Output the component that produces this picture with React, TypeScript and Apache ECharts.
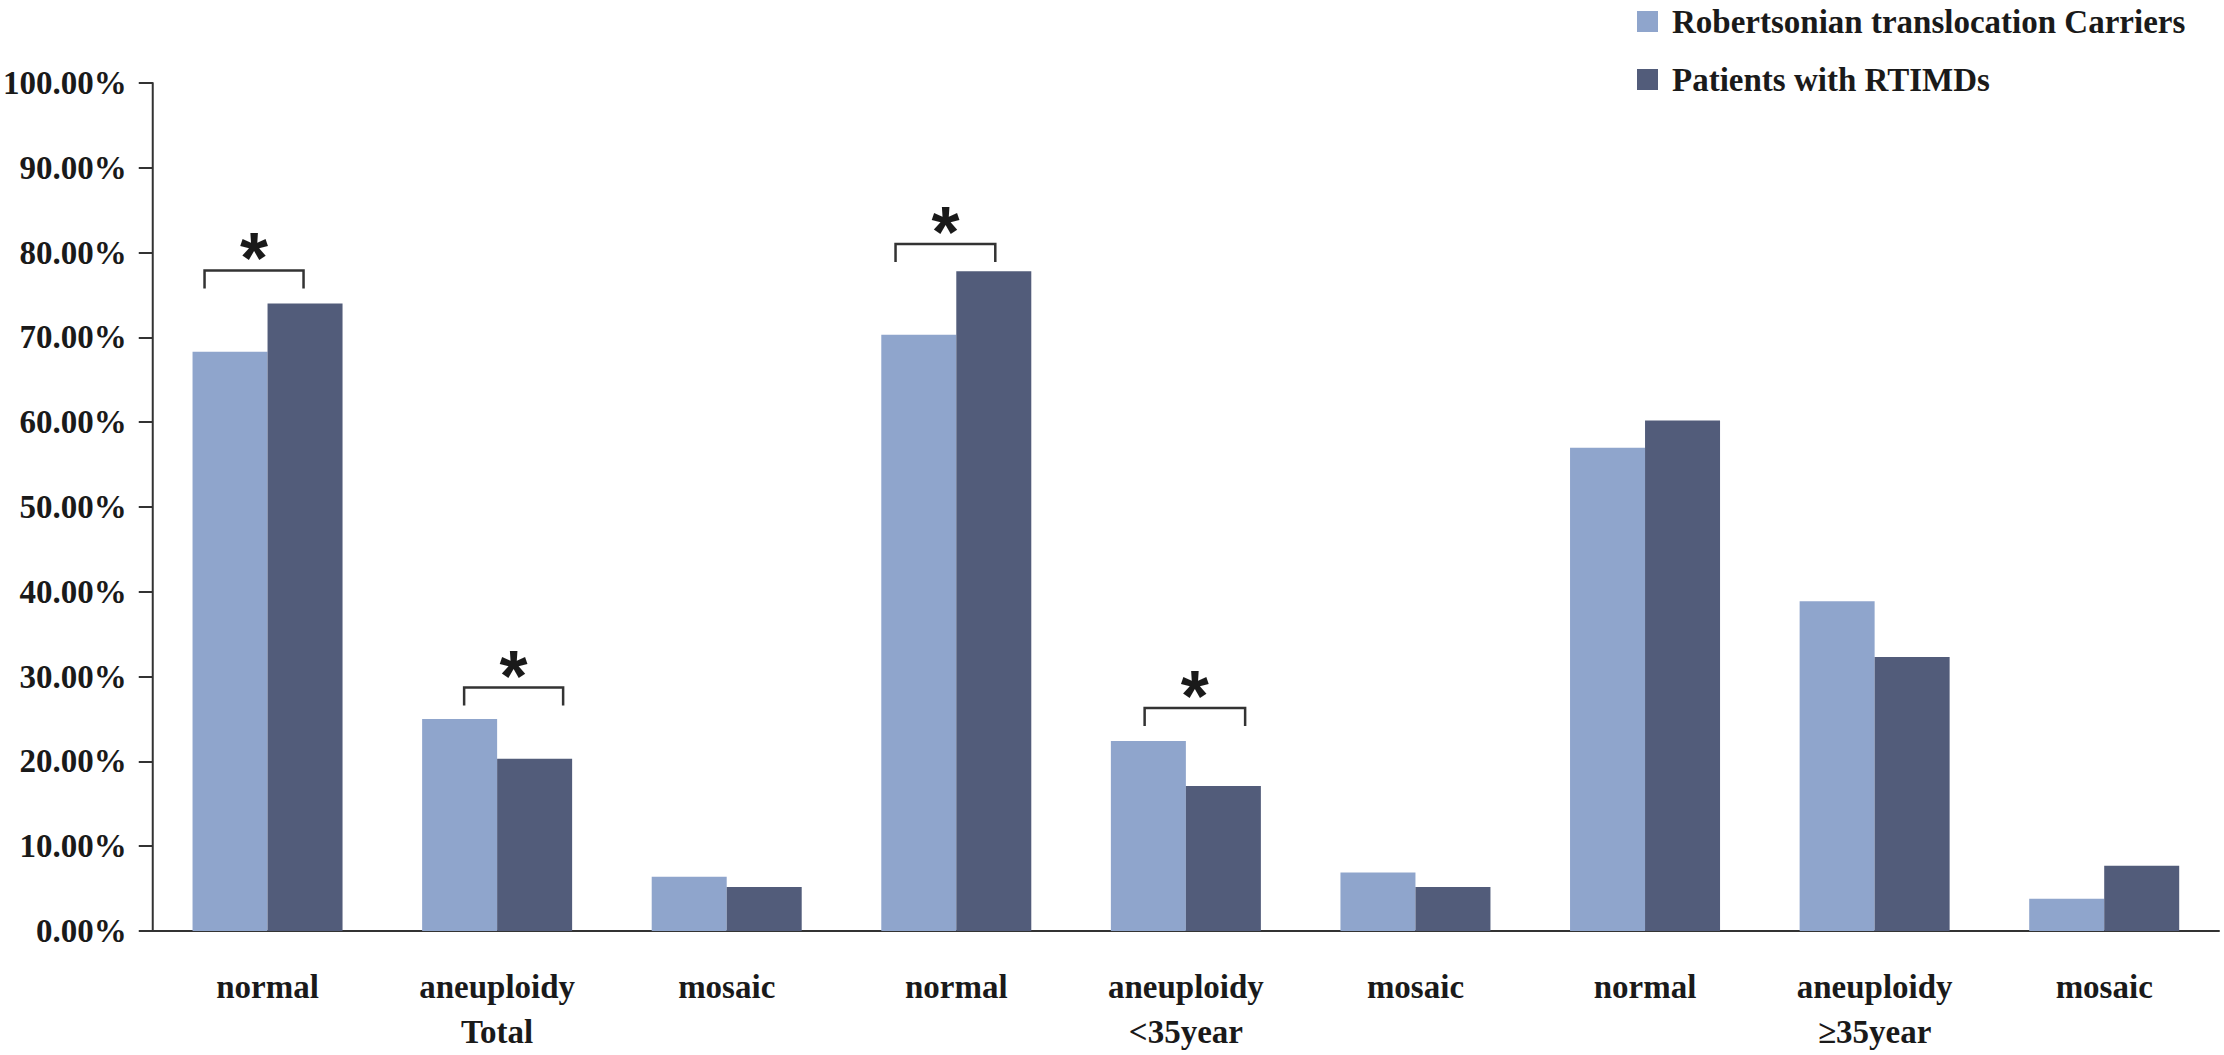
import React, { useEffect, useRef } from 'react';
import * as echarts from 'echarts';

// ---- data ----
const categories = ['normal', 'aneuploidy', 'mosaic', 'normal', 'aneuploidy', 'mosaic', 'normal', 'aneuploidy', 'mosaic'];
const groupLabels = ['Total', '<35year', '≥35year'];
const seriesNames = ['Robertsonian translocation Carriers', 'Patients with RTIMDs'];
const carriers = [68.3, 25.0, 6.4, 70.3, 22.4, 6.9, 57.0, 38.9, 3.8];
const patients = [74.0, 20.3, 5.2, 77.8, 17.1, 5.2, 60.2, 32.3, 7.7];
const yMin = 0;
const yMax = 100;
const yStep = 10;
const sigCategory = [0, 1, 3, 4];
const sigLevel = [77.9, 28.7, 81.0, 26.3];
const sigMark = ['*', '*', '*', '*'];

// ---- styling ----
const BAR_W = 75;
const bracketSpan = [
  [-0.84, 0.48],
  [-0.44, 0.88],
  [-0.81, 0.52],
  [-0.55, 0.79],
];
const LIGHT = '#8FA5CC';
const DARK = '#525C7A';
const TEXT = '#1a1a1a';
const AXIS = '#333333';
const SERIF = '"Liberation Serif", "Times New Roman", serif';

export default function App() {
  const ref = useRef<HTMLDivElement>(null);

  useEffect(() => {
    if (!ref.current) return;
    const chart = echarts.init(ref.current, undefined, { renderer: 'svg' });
    const option: any = {
      animation: false,
      backgroundColor: '#ffffff',
      grid: { left: 149, right: 5, top: 83, bottom: 124, containLabel: false },
      legend: {
        orient: 'vertical',
        left: 1632,
        top: 0,
        itemWidth: 21,
        itemHeight: 21,
        itemGap: 25,
        icon: 'rect',
        data: seriesNames,
        textStyle: {
          fontFamily: SERIF,
          fontWeight: 'bold',
          fontSize: 33,
          lineHeight: 33,
          color: TEXT,
          padding: [0, 0, 0, 9],
        },
      },
      xAxis: {
        type: 'category',
        data: categories,
        axisTick: { show: false },
        axisLine: { show: true, lineStyle: { color: AXIS, width: 2 } },
        axisLabel: {
          interval: 0,
          margin: 33,
          fontFamily: SERIF,
          fontWeight: 'bold',
          fontSize: 33,
          lineHeight: 45,
          color: TEXT,
          formatter: (v: string, i: number) =>
            i % 3 === 1 ? v + '\n' + groupLabels[(i - 1) / 3] : v,
        },
      },
      yAxis: {
        type: 'value',
        min: yMin,
        max: yMax,
        interval: yStep,
        splitLine: { show: false },
        axisLine: { show: true, lineStyle: { color: AXIS, width: 2 } },
        axisTick: { show: true, length: 14, lineStyle: { color: AXIS, width: 2 } },
        axisLabel: {
          margin: 26,
          fontFamily: SERIF,
          fontWeight: 'bold',
          fontSize: 33,
          color: TEXT,
          padding: [10, 0, 0, 0],
          formatter: (v: number) => v.toFixed(2) + '%',
        },
      },
      series: [
        {
          name: seriesNames[0],
          type: 'bar',
          data: carriers,
          barWidth: BAR_W,
          barGap: '0%',
          itemStyle: { color: LIGHT },
        },
        {
          name: seriesNames[1],
          type: 'bar',
          data: patients,
          barWidth: BAR_W,
          barGap: '0%',
          itemStyle: { color: DARK },
        },
        {
          type: 'custom',
          silent: true,
          clip: false,
          z: 10,
          data: sigCategory.map((c, i) => [c, sigLevel[i]]),
          renderItem: (params: any, api: any) => {
            const i = params.dataIndex;
            const c = api.coord([api.value(0), api.value(1)]);
            const span = bracketSpan[i];
            const x1 = c[0] + span[0] * BAR_W;
            const x2 = c[0] + span[1] * BAR_W;
            const y = c[1];
            return {
              type: 'group',
              children: [
                {
                  type: 'polyline',
                  shape: { points: [[x1, y + 18], [x1, y], [x2, y], [x2, y + 18]] },
                  style: { stroke: AXIS, lineWidth: 2.5, fill: 'none' },
                },
                {
                  type: 'text',
                  x: (x1 + x2) / 2,
                  y: y - 12,
                  style: {
                    text: sigMark[i],
                    fontFamily: '"Liberation Sans", Arial, sans-serif',
                    fontWeight: 'bold',
                    fontSize: 72,
                    fill: TEXT,
                    align: 'center',
                    verticalAlign: 'middle',
                  },
                },
              ],
            };
          },
        },
      ],
    };
    chart.setOption(option);
    return () => chart.dispose();
  }, []);

  return (
    <div
      ref={ref}
      style={{ position: 'fixed', left: 0, top: 0, width: 2224, height: 1055, background: '#fff' }}
    />
  );
}
